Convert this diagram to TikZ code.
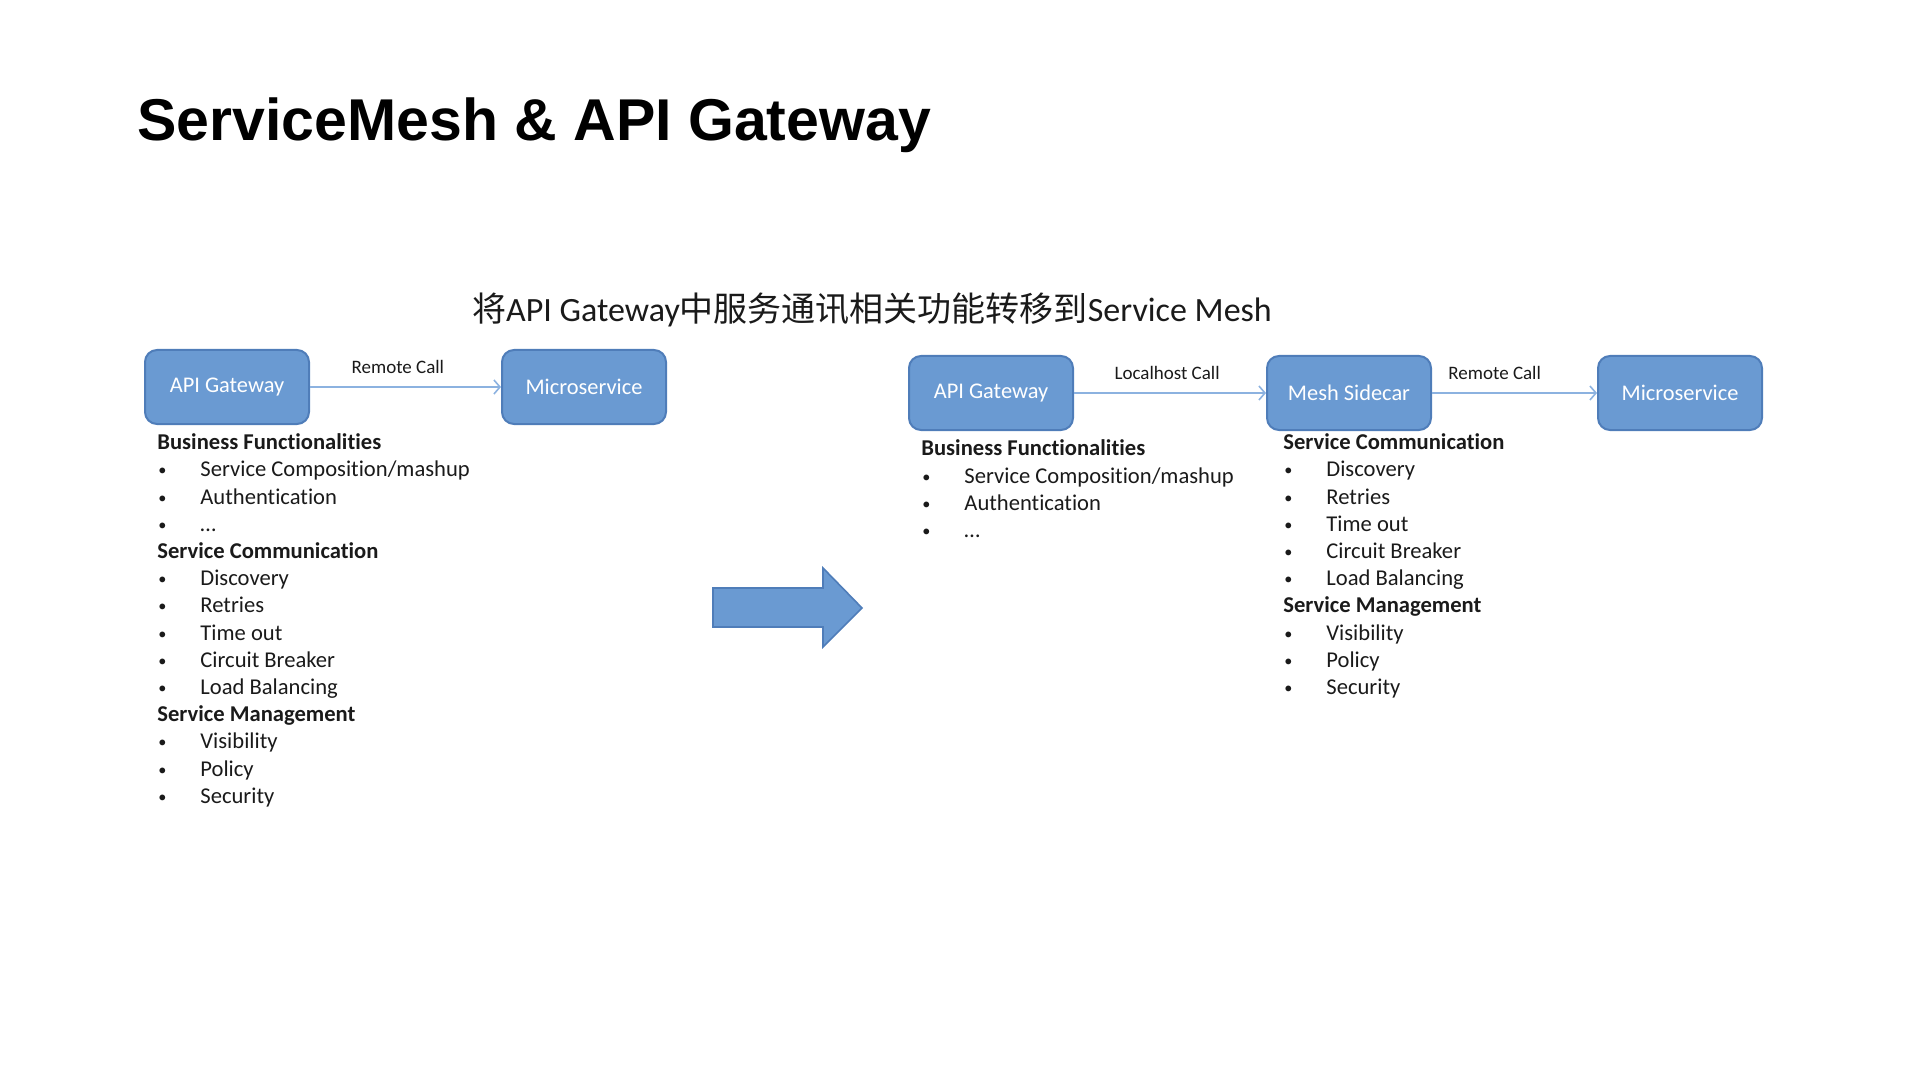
\documentclass[tikz,border=0pt]{standalone}
\usepackage{fontspec}
\setmainfont{Carlito}[Ligatures=NoCommon]
\newfontfamily\titlefont{Liberation Sans}
\newfontfamily\cjk{Noto Sans CJK SC}
\usetikzlibrary{arrows.meta}
\definecolor{boxfill}{HTML}{6A9AD2}
\definecolor{boxline}{HTML}{4F7DB9}
\definecolor{connline}{HTML}{8CB2E0}
\definecolor{txt}{HTML}{1A1A1A}
\newcommand{\bul}{\makebox[21pt][l]{\raisebox{0.5pt}{\scalebox{0.72}{\textbullet}}}}
\begin{document}
\begin{tikzpicture}[x=0.5pt,y=-0.5pt,
 svc/.style={draw=boxline, line width=1pt, fill=boxfill, rounded corners=6pt, minimum width=82pt, minimum height=37pt, text=white, font=\fontsize{11.2pt}{13pt}\selectfont, inner sep=0pt},
 conn/.style={draw=connline, line width=0.8pt, -{Straight Barb[length=3pt,width=7pt]}},
 lbl/.style={font=\fontsize{9.5pt}{11pt}\selectfont, text=txt, inner sep=0pt},
 head/.style={anchor=mid west, font=\bfseries\fontsize{11.3pt}{13pt}\selectfont, text=txt, inner sep=0pt},
 item/.style={anchor=mid west, font=\fontsize{11.3pt}{13pt}\selectfont, text=txt, inner sep=0pt},
]
\useasboundingbox (0,0) rectangle (1920,1080);

% title
\node[anchor=base west, inner sep=0pt, font=\titlefont\bfseries\fontsize{29.5pt}{32pt}\selectfont] (title) at (137,141) {ServiceMesh \& API Gateway};

% subtitle
\node[inner sep=0pt, text=txt, font=\fontsize{17pt}{20pt}\selectfont] (sub) at (872,310) {{\cjk 将}API Gateway{\cjk 中服务通讯相关功能转移到}Service Mesh};

% left diagram
\node[svc] (lag) at (227,387) {API Gateway};
\node[svc] (lms) at (584,387) {Microservice};
\draw[conn] (lag) -- node[lbl, pos=0.46, yshift=10pt] (lrc) {Remote Call} (lms);

% right diagram
\node[svc] (rag) at (991,393) {API Gateway};
\node[svc] (rsc) at (1349,393) {Mesh Sidecar};
\node[svc] (rms) at (1680,393) {Microservice};
\draw[conn] (rag) -- node[lbl, pos=0.485, yshift=10pt] (rlc) {Localhost Call} (rsc);
\draw[conn] (rsc) -- node[lbl, pos=0.38, yshift=10pt] (rrc) {Remote Call} (rms);

% left lists
\node[head] (l1) at (157,445) {Business Functionalities};
\node[item] (l2) at (158,472.2) {\bul Service Composition/mashup};
\node[item] (l3) at (158,499.4) {\bul Authentication};
\node[item] (l4) at (158,526.6) {\bul \ldots};
\node[head] (l5) at (157,553.8) {Service Communication};
\node[item] (l6) at (158,581) {\bul Discovery};
\node[item] (l7) at (158,608.2) {\bul Retries};
\node[item] (l8) at (158,635.4) {\bul Time out};
\node[item] (l9) at (158,662.6) {\bul Circuit Breaker};
\node[item] (l10) at (158,689.8) {\bul Load Balancing};
\node[head] (l11) at (157,717) {Service Management};
\node[item] (l12) at (158,744.2) {\bul Visibility};
\node[item] (l13) at (158,771.4) {\bul Policy};
\node[item] (l14) at (158,798.6) {\bul Security};

% right business list
\node[head] (b1) at (921,451) {Business Functionalities};
\node[item] (b2) at (922,478.5) {\bul Service Composition/mashup};
\node[item] (b3) at (922,505.7) {\bul Authentication};
\node[item] (b4) at (922,532.9) {\bul \ldots};

% right mesh list
\node[head] (s1) at (1283,445) {Service Communication};
\node[item] (s2) at (1284,472.2) {\bul Discovery};
\node[item] (s3) at (1284,499.4) {\bul Retries};
\node[item] (s4) at (1284,526.6) {\bul Time out};
\node[item] (s5) at (1284,553.8) {\bul Circuit Breaker};
\node[item] (s6) at (1284,581) {\bul Load Balancing};
\node[head] (s7) at (1283,608.2) {Service Management};
\node[item] (s8) at (1284,635.4) {\bul Visibility};
\node[item] (s9) at (1284,662.6) {\bul Policy};
\node[item] (s10) at (1284,689.8) {\bul Security};

% big arrow
\draw[fill=boxfill, draw=boxline, line width=0.8pt, line join=miter]
  (713,588) -- (823,588) -- (823,568) -- (862,608) -- (823,647) -- (823,627) -- (713,627) -- cycle;
\end{tikzpicture}
\end{document}
